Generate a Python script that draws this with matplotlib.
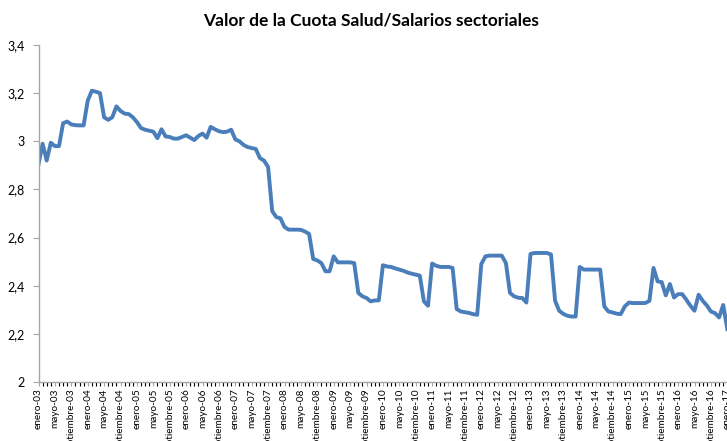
import numpy as np
import matplotlib.pyplot as plt

plt.rcParams['font.family'] = ['Lato', 'DejaVu Sans']

# monthly values, enero-03 .. enero-17
valores = [
    2.904, 2.99, 2.92, 2.994, 2.98, 2.98, 3.075, 3.082, 3.07, 3.067, 3.066, 3.066,
    3.168, 3.21, 3.206, 3.2, 3.1, 3.089, 3.1, 3.145, 3.126, 3.115, 3.113, 3.1,
    3.08, 3.055, 3.048, 3.044, 3.04, 3.013, 3.05, 3.02, 3.018, 3.011, 3.011, 3.018,
    3.025, 3.015, 3.005, 3.022, 3.032, 3.015, 3.06, 3.05, 3.042, 3.038, 3.04, 3.048,
    3.008, 3.0, 2.985, 2.976, 2.972, 2.968, 2.93, 2.92, 2.893, 2.71, 2.685, 2.68,
    2.644, 2.633, 2.633, 2.633, 2.632, 2.625, 2.615, 2.511, 2.505, 2.494, 2.46, 2.46,
    2.522, 2.497, 2.497, 2.497, 2.497, 2.494, 2.37, 2.356, 2.349, 2.335, 2.339, 2.339,
    2.485, 2.48, 2.478, 2.472, 2.467, 2.462, 2.455, 2.45, 2.446, 2.442, 2.335, 2.317,
    2.492, 2.483, 2.478, 2.478, 2.478, 2.474, 2.303, 2.293, 2.29, 2.287, 2.282, 2.279,
    2.49, 2.522, 2.525, 2.525, 2.525, 2.525, 2.494, 2.37, 2.356, 2.35, 2.349, 2.33,
    2.532, 2.536, 2.536, 2.536, 2.536, 2.53, 2.337, 2.296, 2.283, 2.275, 2.272, 2.272,
    2.478, 2.467, 2.467, 2.467, 2.467, 2.467, 2.314, 2.293, 2.289, 2.284, 2.282, 2.314,
    2.33, 2.328, 2.328, 2.328, 2.328, 2.337, 2.474, 2.418, 2.415, 2.36, 2.407, 2.351,
    2.365, 2.365, 2.342, 2.317, 2.296, 2.3625, 2.3375, 2.318, 2.293, 2.286, 2.268, 2.32,
    2.22,
]
meses = ['enero', 'febrero', 'marzo', 'abril', 'mayo', 'junio', 'julio',
         'agosto', 'septiembre', 'octubre', 'noviembre', 'diciembre']
anios = list(range(2003, 2018))
categorias = [f'{m}-{a % 100:02d}' for a in anios for m in meses][:len(valores)]

y_ticks = [2, 2.2, 2.4, 2.6, 2.8, 3, 3.2, 3.4]
y_labels = ['2', '2,2', '2,4', '2,6', '2,8', '3', '3,2', '3,4']

W, H = 727, 441
fig = plt.figure(figsize=(W / 100, H / 100), dpi=100)
step = 4.1
nmax = 172
ax = fig.add_axes([38.5 / W, 59 / H, nmax * step / W, 337 / H])

x = np.arange(len(valores))
ax.plot(x, valores, color='#4A7EBB', linewidth=2.8, solid_joinstyle='round')

ax.set_xlim(0, nmax)
ax.set_ylim(2, 3.4)
ax.set_yticks(y_ticks)
ax.set_yticklabels(y_labels, fontsize=9)
ax.set_xticks(x[::4])
ax.set_xticklabels(categorias[::4], rotation=90, fontsize=7.2, va='top', ha='center')
ax.set_xticks(x, minor=True)

for s in ['top', 'right']:
    ax.spines[s].set_visible(False)
for s in ['left', 'bottom']:
    ax.spines[s].set_color('#A6A6A6')
    ax.spines[s].set_linewidth(1.0)
ax.tick_params(axis='both', colors='#A6A6A6', labelcolor='black', length=4, width=0.8)
ax.tick_params(axis='x', which='both', length=3, width=0.8, pad=1.5)
ax.tick_params(axis='y', pad=6)

fig.text(371 / W, (H - 20) / H, 'Valor de la Cuota Salud/Salarios sectoriales',
         ha='center', va='center', fontsize=12.5, fontweight='bold')

fig.savefig('out.png', dpi=100)
